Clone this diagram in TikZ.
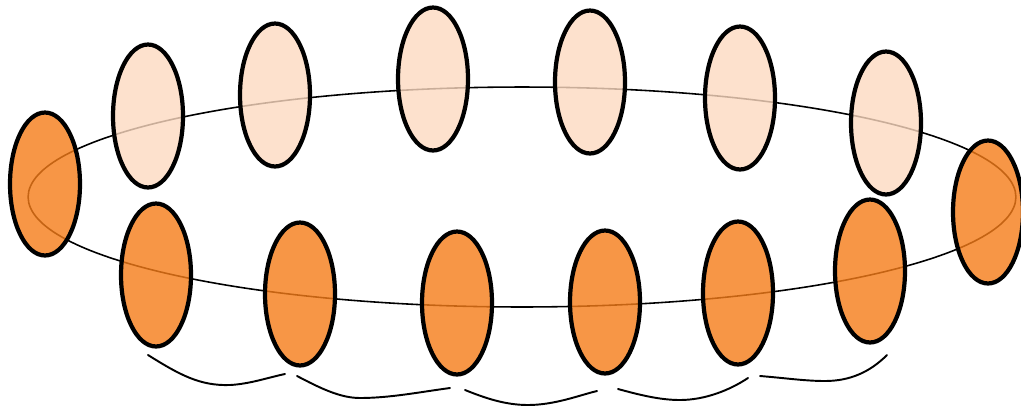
\documentclass[tikz,border=0pt]{standalone}
\usetikzlibrary{shapes.geometric}
\definecolor{discback}{RGB}{252,217,192}
\definecolor{discfront}{RGB}{245,124,24}

\begin{document}
\begin{tikzpicture}[
  x=0.02cm, y=-0.02cm,
  ring/.style={
    ellipse, draw=black, line width=0.9pt, inner sep=0pt,
    minimum width=19.76cm, minimum height=4.4cm
  },
  disc/.style={
    ellipse, draw=black, line width=2.4pt, inner sep=0pt,
    minimum width=1.4cm, minimum height=2.86cm, fill opacity=0.8
  },
  backdisc/.style={disc, fill=discback},
  frontdisc/.style={disc, fill=discfront},
  wave/.style={black, line width=1.1pt, line cap=round},
]
\useasboundingbox (0,0) rectangle (1021,410);

% The ring that carries the discs
\node[ring] (ring) at (522,197) {};

% Back row
\node[backdisc] (b1) at (148,116) {};
\node[backdisc] (b2) at (275,95) {};
\node[backdisc] (b3) at (433,79) {};
\node[backdisc] (b4) at (590,82) {};
\node[backdisc] (b5) at (740,98) {};
\node[backdisc] (b6) at (886,123) {};

% End discs
\node[frontdisc] (el) at (45,184) {};
\node[frontdisc] (er) at (988,212) {};

% Front row
\node[frontdisc] (f1) at (156,275) {};
\node[frontdisc] (f2) at (300,294) {};
\node[frontdisc] (f3) at (457,303) {};
\node[frontdisc] (f4) at (605,302) {};
\node[frontdisc] (f5) at (738,293) {};
\node[frontdisc] (f6) at (870,271) {};

% Wavy marks under the front row
\draw[wave] (148,355) .. controls (180,375) and (200,386) .. (230,385)
  .. controls (250,384) and (270,377) .. (285,374);
\draw[wave] (297,376) .. controls (320,388) and (340,398) .. (360,398)
  .. controls (390,398) and (420,392) .. (450,388);
\draw[wave] (465,390) .. controls (485,398) and (505,405) .. (528,405)
  .. controls (555,405) and (580,395) .. (597,391);
\draw[wave] (618,389) .. controls (640,395) and (660,400) .. (680,400)
  .. controls (705,400) and (730,390) .. (748,378);
\draw[wave] (760,376) .. controls (785,378) and (805,381) .. (825,381)
  .. controls (850,381) and (870,372) .. (887,355);

\end{tikzpicture}
\end{document}
